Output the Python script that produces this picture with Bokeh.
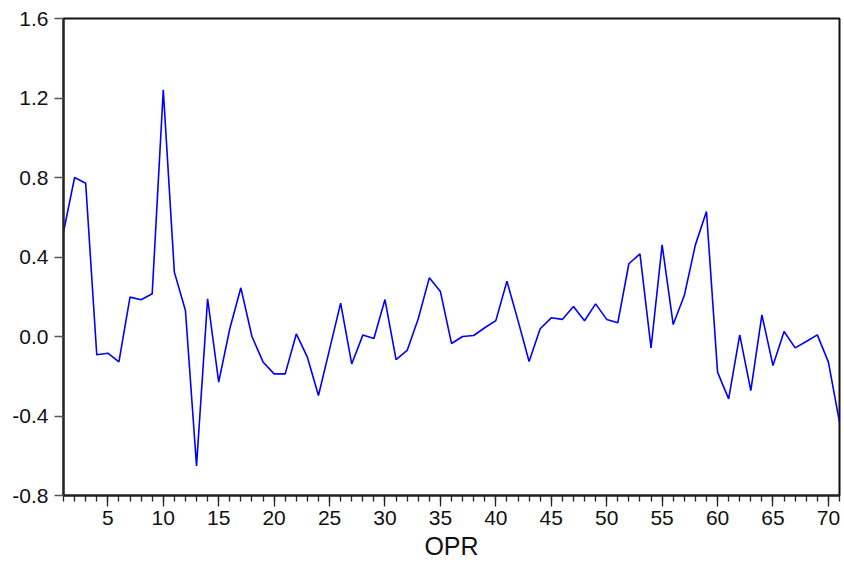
from bokeh.plotting import figure
from bokeh.models import Range1d, FixedTicker, PrintfTickFormatter, ColumnDataSource
from bokeh.embed import file_html
from bokeh.resources import INLINE

# Data
obs = list(range(1, 72))
opr = [0.525, 0.800, 0.771, -0.092, -0.084, -0.128, 0.198, 0.185, 0.215, 1.241,
       0.324, 0.131, -0.651, 0.190, -0.230, 0.039, 0.245, 0.000, -0.128, -0.188,
       -0.188, 0.013, -0.104, -0.297, -0.065, 0.168, -0.138, 0.007, -0.010, 0.186,
       -0.116, -0.070, 0.089, 0.295, 0.226, -0.035, 0.000, 0.005, 0.044, 0.080,
       0.278, 0.080, -0.126, 0.039, 0.094, 0.086, 0.151, 0.079, 0.164, 0.086,
       0.069, 0.366, 0.416, -0.057, 0.461, 0.060, 0.206, 0.461, 0.629, -0.179,
       -0.314, 0.008, -0.272, 0.109, -0.146, 0.025, -0.057, -0.025, 0.008, -0.129,
       -0.431]
x_major_ticks = [5, 10, 15, 20, 25, 30, 35, 40, 45, 50, 55, 60, 65, 70]
x_minor_ticks = list(range(1, 72))
y_ticks = [-0.8, -0.4, 0.0, 0.4, 0.8, 1.2, 1.6]
x_label = "OPR"

src = ColumnDataSource(dict(x=obs, y=opr))

p = figure(width=844, height=567, output_backend="svg", toolbar_location=None,
           x_range=Range1d(1, 71), y_range=Range1d(-0.8, 1.6),
           min_border_left=63, min_border_right=5, min_border_top=18,
           min_border_bottom=72)
p.background_fill_color = "white"
p.border_fill_color = "white"
p.outline_line_color = "#111111"
p.outline_line_width = 2
p.xgrid.visible = False
p.ygrid.visible = False

p.line("x", "y", source=src, line_color="#0000FF", line_width=1.6)

font = "Liberation Sans"

xa = p.xaxis[0]
xa.ticker = FixedTicker(ticks=x_major_ticks, minor_ticks=x_minor_ticks)
xa.axis_label = x_label
xa.axis_label_text_font = font
xa.axis_label_text_font_size = "25px"
xa.axis_label_text_font_style = "normal"
xa.axis_label_text_color = "#111111"
xa.axis_label_standoff = 4
xa.major_label_text_font = font
xa.major_label_text_font_size = "21px"
xa.major_label_text_color = "#111111"
xa.major_label_standoff = 4
xa.major_tick_in = 0
xa.major_tick_out = 11
xa.minor_tick_in = 0
xa.minor_tick_out = 6
xa.axis_line_width = 2
xa.axis_line_color = "#222222"
xa.major_tick_line_color = "#222222"
xa.minor_tick_line_color = "#222222"
xa.major_tick_line_width = 1.3
xa.minor_tick_line_width = 1.3

ya = p.yaxis[0]
ya.ticker = FixedTicker(ticks=y_ticks, minor_ticks=[])
ya.formatter = PrintfTickFormatter(format="%.1f")
ya.major_label_text_font = font
ya.major_label_text_font_size = "21px"
ya.major_label_text_color = "#111111"
ya.major_label_standoff = 6
ya.major_tick_in = 0
ya.major_tick_out = 9
ya.minor_tick_line_color = None
ya.axis_line_width = 2
ya.axis_line_color = "#222222"
ya.major_tick_line_color = "#555555"
ya.major_tick_line_width = 1.3

open("out.html", "w").write(file_html(p, INLINE))
